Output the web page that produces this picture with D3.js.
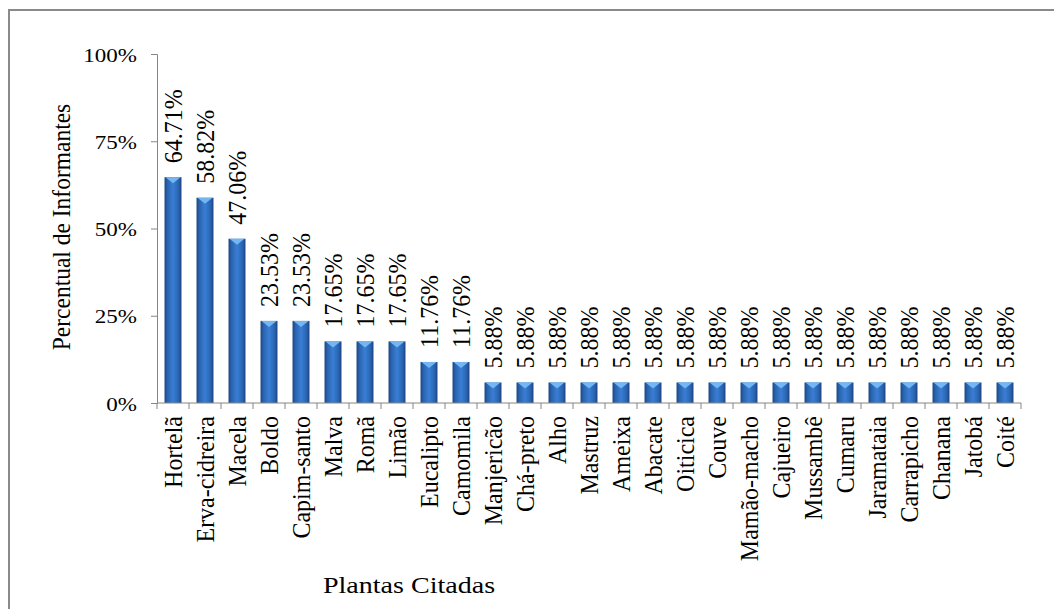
<!DOCTYPE html>
<html>
<head>
<meta charset="utf-8">
<script src="https://cdn.jsdelivr.net/npm/d3@7"></script>
<style>
  body { margin: 0; background: #fff; }
  text { font-family: "Liberation Serif", "Times New Roman", serif; fill: #000; }
</style>
</head>
<body>
<svg id="svg" width="1054" height="609"></svg>
<script>
var plants = ["Hortelã","Erva-cidreira","Macela","Boldo","Capim-santo","Malva","Romã","Limão",
  "Eucalipto","Camomila","Manjericão","Chá-preto","Alho","Mastruz","Ameixa","Abacate","Oiticica",
  "Couve","Mamão-macho","Cajueiro","Mussambê","Cumaru","Jaramataia","Carrapicho","Chanana","Jatobá","Coité"];
var percents = [64.71,58.82,47.06,23.53,23.53,17.65,17.65,17.65,11.76,11.76,5.88,5.88,5.88,5.88,
  5.88,5.88,5.88,5.88,5.88,5.88,5.88,5.88,5.88,5.88,5.88,5.88,5.88];
var yTicks = [0,25,50,75,100];

var svg = d3.select("#svg");
var margin = {left: 157, right: 33, top: 54, bottom: 206};
var width = 1054 - margin.left - margin.right,
    height = 609 - margin.top - margin.bottom;
var stretch = 1.18; // the picture's text is a bit wider than tall

// frame round the chart area
svg.append("rect").attr("x",9).attr("y",10).attr("width",1060).attr("height",620)
  .attr("fill","none").attr("stroke","#8a8a8a").attr("stroke-width",2);

var defs = svg.append("defs");
var grad = defs.append("linearGradient").attr("id","barGrad").attr("x1","0").attr("x2","1").attr("y1","0").attr("y2","0");
grad.append("stop").attr("offset","0%").attr("stop-color","#1b4680");
grad.append("stop").attr("offset","18%").attr("stop-color","#2a64b2");
grad.append("stop").attr("offset","50%").attr("stop-color","#3a7ed4");
grad.append("stop").attr("offset","82%").attr("stop-color","#2a64b2");
grad.append("stop").attr("offset","100%").attr("stop-color","#1b4680");

var x = d3.scaleBand().domain(plants).range([0, width]).paddingInner(0.47).paddingOuter(0.235);
var xb = d3.scaleBand().domain(plants).range([0, width]);
var y = d3.scaleLinear().domain([0,100]).range([height,0]);

var g = svg.append("g").attr("transform","translate(" + margin.left + "," + margin.top + ")");

// y axis
var yAxis = g.append("g").call(d3.axisLeft(y).tickValues(yTicks).tickSize(6).tickPadding(0)
  .tickFormat(function(d){ return d + "%"; }));
yAxis.select(".domain").attr("stroke","#868686");
yAxis.selectAll("line").attr("stroke","#868686");
yAxis.selectAll("text")
  .attr("x",null).attr("dy",null)
  .attr("transform","translate(-20,7) scale(" + stretch + ",1)")
  .style("font-size","19.5px").attr("font-family",null);

// bars
var bars = g.selectAll(".bar").data(percents).enter().append("g").attr("class","bar");
bars.append("rect")
  .attr("x", function(d,i){ return x(plants[i]); })
  .attr("y", function(d){ return y(d); })
  .attr("width", x.bandwidth())
  .attr("height", function(d){ return height - y(d); })
  .attr("fill","url(#barGrad)");
bars.append("path")
  .attr("d", function(d,i){
    var x0 = x(plants[i]), w = x.bandwidth(), t = y(d);
    return "M" + (x0+1) + "," + t + "L" + (x0+w-1) + "," + t + "L" + (x0+w/2) + "," + (t+6) + "Z";
  })
  .attr("fill","#74b6f2");

// x axis
var xAxis = g.append("g").attr("transform","translate(0," + height + ")");
xAxis.append("line").attr("x1",0).attr("x2",width).attr("stroke","#868686");
xAxis.selectAll(".tk").data(d3.range(plants.length + 1)).enter().append("line")
  .attr("x1", function(i){ return i * xb.bandwidth(); })
  .attr("x2", function(i){ return i * xb.bandwidth(); })
  .attr("y1",0).attr("y2",6).attr("stroke","#868686");

xAxis.selectAll(".cat").data(plants).enter().append("text")
  .attr("transform", function(d){ return "translate(" + (xb(d) + xb.bandwidth()/2 + 8.5) + ",13) scale(1.05,1) rotate(-90)"; })
  .attr("text-anchor","end")
  .style("font-size","24px")
  .text(function(d){ return d; });

// value labels
bars.append("text")
  .attr("transform", function(d,i){ return "translate(" + (x(plants[i]) + x.bandwidth()/2 + 9) + "," + (y(d) - 14) + ") scale(1.05,1) rotate(-90)"; })
  .attr("text-anchor","start")
  .style("font-size","24px")
  .text(function(d){ return d.toFixed(2) + "%"; });

// axis titles
svg.append("text")
  .attr("transform","translate(70,227) scale(1.05,1) rotate(-90)")
  .attr("text-anchor","middle")
  .style("font-size","23.5px")
  .text("Percentual  de Informantes");
svg.append("text")
  .attr("transform","translate(409,593) scale(1.22,1)")
  .attr("text-anchor","middle")
  .style("font-size","23px")
  .text("Plantas Citadas");
</script>
</body>
</html>
